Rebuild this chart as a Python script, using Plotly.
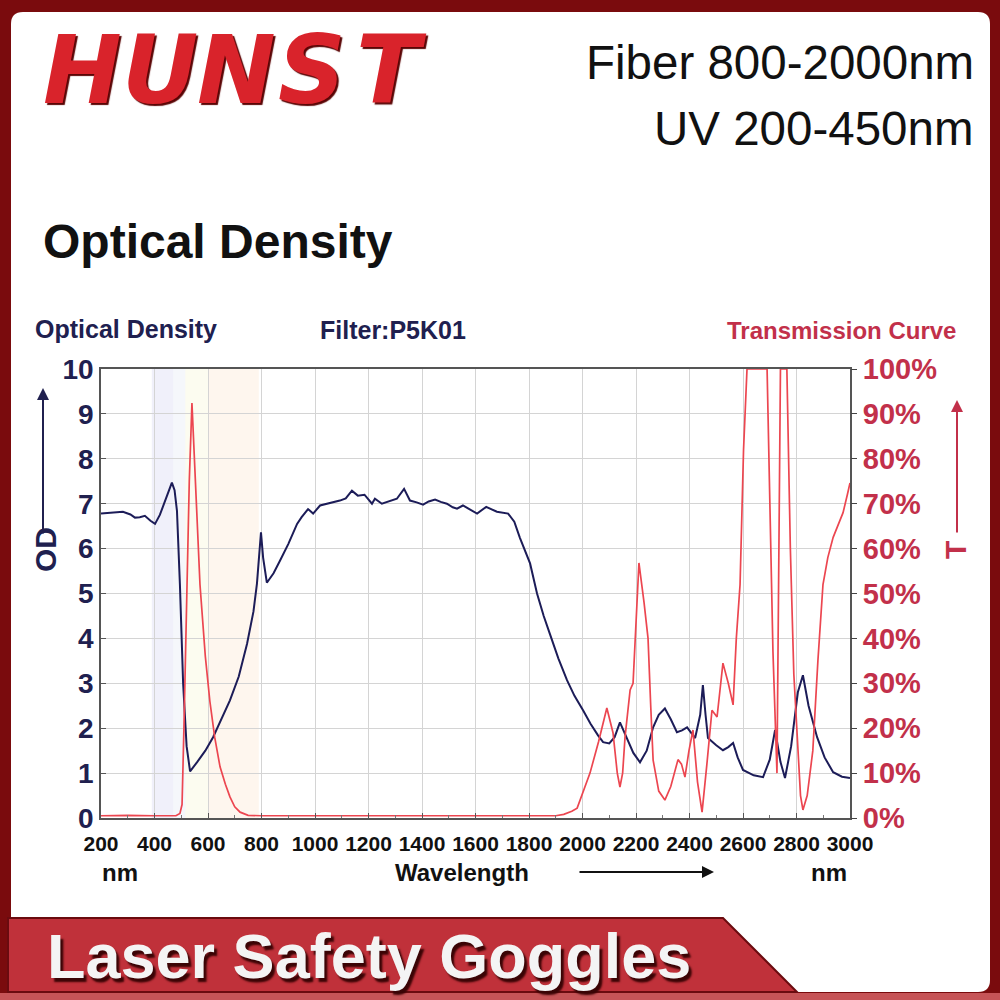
import plotly.graph_objects as go

# ---------------- data ----------------
od_nm = [200, 240, 282, 310, 327, 345, 364, 385, 402, 420, 440, 465, 475, 484, 495, 507, 520, 533,
         560, 590, 619, 650, 682, 715, 746, 770, 783, 798, 806, 820, 845, 869, 900, 933, 950, 974,
         993, 1019, 1050, 1093, 1115, 1138, 1160, 1185, 1213, 1224, 1250, 1280, 1306, 1333, 1355,
         1380, 1404, 1425, 1449, 1470, 1493, 1515, 1531, 1553, 1580, 1606, 1640, 1660, 1680, 1722,
         1745, 1766, 1785, 1804, 1830, 1855, 1878, 1910, 1942, 1970, 2002, 2030, 2058, 2077, 2100,
         2120, 2140, 2160, 2190, 2215, 2240, 2264, 2285, 2308, 2330, 2353, 2372, 2391, 2421, 2440,
         2450, 2460, 2469, 2500, 2525, 2545, 2563, 2580, 2600, 2640, 2675, 2700, 2720, 2740, 2757,
         2780, 2805, 2824, 2845, 2877, 2905, 2937, 2970, 3000]
od_vals = [6.78, 6.80, 6.82, 6.76, 6.69, 6.70, 6.73, 6.62, 6.55, 6.75, 7.05, 7.47, 7.30, 6.84, 5.2,
           3.0, 1.6, 1.04, 1.25, 1.5, 1.8, 2.2, 2.62, 3.15, 3.88, 4.6, 5.22, 6.36, 5.8, 5.24, 5.45,
           5.73, 6.1, 6.55, 6.7, 6.88, 6.78, 6.96, 7.0, 7.07, 7.12, 7.29, 7.18, 7.20, 7.0, 7.11, 7.0,
           7.06, 7.11, 7.33, 7.07, 7.03, 6.98, 7.05, 7.09, 7.04, 7.0, 6.92, 6.89, 6.96, 6.86, 6.78,
           6.93, 6.87, 6.82, 6.78, 6.6, 6.24, 5.95, 5.67, 5.0, 4.5, 4.1, 3.55, 3.07, 2.72, 2.4, 2.1,
           1.84, 1.69, 1.66, 1.8, 2.13, 1.85, 1.45, 1.24, 1.5, 2.02, 2.3, 2.44, 2.2, 1.91, 1.95, 2.02,
           1.78, 2.3, 2.96, 2.3, 1.78, 1.62, 1.51, 1.58, 1.67, 1.35, 1.07, 0.95, 0.91, 1.3, 1.96,
           1.25, 0.89, 1.6, 2.8, 3.18, 2.5, 1.8, 1.35, 1.02, 0.92, 0.89]

t_nm = [200, 300, 400, 480, 495, 503, 510, 518, 530, 540, 550, 570, 590, 607, 625, 645, 665, 682,
        700, 720, 750, 800, 1000, 1500, 1900, 1930, 1960, 1980, 2002, 2028, 2060, 2091, 2114, 2130,
        2140, 2150, 2159, 2178, 2189, 2200, 2211, 2230, 2245, 2255, 2264, 2285, 2308, 2330, 2357,
        2370, 2383, 2398, 2413, 2430, 2447, 2465, 2484, 2503, 2525, 2545, 2563, 2575, 2589, 2602,
        2615, 2690, 2712, 2727, 2740, 2764, 2777, 2790, 2815, 2824, 2840, 2861, 2880, 2899, 2917,
        2937, 2955, 2974, 2990, 3000]
t_vals = [0.5, 0.6, 0.5, 0.5, 1, 3, 20, 45, 75, 92.4, 80, 52, 36, 26, 18, 11.4, 7.5, 4.7, 2.5, 1.3,
          0.6, 0.5, 0.5, 0.5, 0.5, 0.8, 1.5, 2.2, 6, 10, 17, 24.5, 19, 10, 6.9, 10, 18, 28.5, 30, 45,
          56.8, 48, 40, 25, 12.9, 6, 4, 7, 13, 12, 9.1, 15, 19.6, 8, 1.3, 12, 24, 22.5, 34.5, 30,
          25.2, 40, 52, 82, 100, 100, 37, 10, 100, 100, 60, 32, 5, 1.8, 5, 15, 35, 52, 58, 62.5, 65,
          68, 72, 74.6]

x_ticks = [200, 400, 600, 800, 1000, 1200, 1400, 1600, 1800, 2000, 2200, 2400, 2600, 2800, 3000]
od_ticks = [0, 1, 2, 3, 4, 5, 6, 7, 8, 9, 10]
t_ticks = [0, 10, 20, 30, 40, 50, 60, 70, 80, 90, 100]

spectrum_bands = [(390, 470, "rgba(205,205,240,0.30)"), (470, 515, "rgba(215,225,240,0.25)"),
                  (515, 600, "rgba(245,245,205,0.30)"), (600, 790, "rgba(252,228,205,0.35)")]

NAVY = "#20204f"
RED_TXT = "#c2304a"


def px(x):
    return x / 1000.0


def py(y):
    return 1 - y / 1000.0


fig = go.Figure()
fig.add_trace(go.Scatter(x=od_nm, y=od_vals, mode="lines", line=dict(color="#1c1c58", width=2),
                         yaxis="y", showlegend=False))
fig.add_trace(go.Scatter(x=t_nm, y=t_vals, mode="lines", line=dict(color="#ec4650", width=1.7),
                         yaxis="y2", showlegend=False))

sans = "Liberation Sans, Arial, sans-serif"

fig.update_layout(
    width=1000, height=1000,
    margin=dict(l=0, r=0, t=0, b=0),
    paper_bgcolor="#7a0b0d",
    plot_bgcolor="rgba(0,0,0,0)",
    xaxis=dict(domain=[0.101, 0.850], range=[200, 3000], tickvals=x_ticks,
               ticktext=[str(v) for v in x_ticks], tickangle=0,
               tickfont=dict(family=sans, size=21, color="#111", weight=700),
               showgrid=True, gridcolor="#d4d4d4", gridwidth=1,
               showline=True, linecolor="#555", linewidth=1.5, mirror=True,
               ticks="inside", ticklen=5, tickcolor="#555",
               minor=dict(ticks="inside", ticklen=3, dtick=100, tickcolor="#777"),
               ticklabelstandoff=6, automargin=False, zeroline=False, fixedrange=True),
    yaxis=dict(domain=[0.182, 0.631], range=[0, 10], tickvals=od_ticks,
               tickfont=dict(family=sans, size=28, color=NAVY, weight=700),
               showgrid=True, gridcolor="#d4d4d4", gridwidth=1,
               showline=True, linecolor="#555", linewidth=1.5, mirror=True,
               ticks="inside", ticklen=5, tickcolor="#555",
               ticklabelstandoff=0, automargin=False, zeroline=False),
    yaxis2=dict(overlaying="y", side="right", anchor="x", range=[0, 100], tickvals=t_ticks,
                ticktext=[f"{v}%" for v in t_ticks],
                tickfont=dict(family=sans, size=29, color=RED_TXT, weight=700),
                showgrid=False, showline=False, ticks="outside", ticklen=6, tickcolor="#444",
                ticklabelstandoff=0, automargin=False, zeroline=False),
)

shapes = []
# white card with rounded corners
x0, y0, x1, y1, r = px(11), py(12), px(990), py(992), 0.012
shapes.append(dict(type="path", xref="paper", yref="paper", layer="below",
                   path=(f"M {x0+r},{y0} L {x1-r},{y0} Q {x1},{y0} {x1},{y0-r} "
                         f"L {x1},{y1+r} Q {x1},{y1} {x1-r},{y1} L {x0+r},{y1} Q {x0},{y1} {x0},{y1+r} "
                         f"L {x0},{y0-r} Q {x0},{y0} {x0+r},{y0} Z"),
                   fillcolor="white", line=dict(width=0)))
# spectral bands
for a, b, c in spectrum_bands:
    shapes.append(dict(type="rect", xref="x", yref="y domain", x0=a, x1=b, y0=0, y1=1,
                       fillcolor=c, line=dict(width=0), layer="below"))
# bottom banner
shapes.append(dict(type="path", xref="paper", yref="paper", layer="above",
                   path=f"M {px(8)},{py(918)} L {px(723)},{py(918)} L {px(797)},{py(992)} L {px(8)},{py(992)} Z",
                   fillcolor="#c0313a", line=dict(color="#6a0b0f", width=2)))
shapes.append(dict(type="rect", xref="paper", yref="paper", layer="above",
                   x0=0, x1=1, y0=0, y1=py(993), fillcolor="#c65457", line=dict(width=0)))
fig.update_layout(shapes=shapes)

anns = []
# logo
for letter, cx in zip(["H", "U", "N", "S", "T"], [82, 160, 236, 312, 391]):
    anns.append(dict(x=px(cx), y=py(70), xref="paper", yref="paper", text=letter, showarrow=False,
                     xanchor="center", yanchor="middle",
                     font=dict(family="DejaVu Sans", size=94, weight=700, style="italic",
                               color="#d9232b", shadow="2px 2px 1px #5a0505")))
anns += [
    dict(x=px(976), y=py(62), text="Fiber 800-2000nm", xanchor="right", yanchor="middle",
         font=dict(family=sans, size=47.5, color="#111")),
    dict(x=px(976), y=py(128), text="UV 200-450nm", xanchor="right", yanchor="middle",
         font=dict(family=sans, size=47.5, color="#111")),
    dict(x=px(41), y=py(241), text="Optical Density", xanchor="left", yanchor="middle",
         font=dict(family=sans, size=48, color="#111", weight=700)),
    dict(x=px(33), y=py(329), text="Optical Density", xanchor="left", yanchor="middle",
         font=dict(family=sans, size=25, color=NAVY, weight=700)),
    dict(x=px(318), y=py(330), text="Filter:P5K01", xanchor="left", yanchor="middle",
         font=dict(family=sans, size=25, color=NAVY, weight=700)),
    dict(x=px(958), y=py(331), text="Transmission Curve", xanchor="right", yanchor="middle",
         font=dict(family=sans, size=24, color=RED_TXT, weight=700)),
    dict(x=px(45), y=py(550), text="OD", textangle=-90, xanchor="center", yanchor="middle",
         font=dict(family=sans, size=30, color=NAVY, weight=700)),
    dict(x=px(955), y=py(550), text="T", textangle=-90, xanchor="center", yanchor="middle",
         font=dict(family=sans, size=30, color=RED_TXT, weight=700)),
    dict(x=px(100), y=py(872), text="nm", xanchor="left", yanchor="middle",
         font=dict(family=sans, size=24, color="#111", weight=700)),
    dict(x=px(849), y=py(872), text="nm", xanchor="right", yanchor="middle",
         font=dict(family=sans, size=24, color="#111", weight=700)),
    dict(x=px(462), y=py(872), text="Wavelength", xanchor="center", yanchor="middle",
         font=dict(family=sans, size=24, color="#111", weight=700)),
    dict(x=px(45), y=py(956), text="Laser Safety Goggles", xanchor="left", yanchor="middle",
         font=dict(family=sans, size=63, color="#f4f4f4", weight=700, shadow="3px 4px 2px #3a0405")),
]
for a in anns:
    a.setdefault("xref", "paper")
    a.setdefault("yref", "paper")
    a.setdefault("showarrow", False)
    fig.add_annotation(**a)

# arrows (axis direction indicators): head at (xa, ya), tail offset in pixels
for (xa, ya, xb, yb, col) in [(43, 388, 43, 535, NAVY), (957, 400, 957, 534, RED_TXT),
                             (714, 872, 578, 872, "#111")]:
    fig.add_annotation(x=px(xa), y=py(ya), ax=xb - xa, ay=yb - ya, xref="paper", yref="paper",
                       axref="pixel", ayref="pixel", text="", showarrow=True, arrowhead=2,
                       arrowsize=1.2, arrowwidth=2, arrowcolor=col)

fig.write_html("out.html", config={"displayModeBar": False},
               post_script="document.body.style.margin='0';document.body.style.overflow='hidden';")
